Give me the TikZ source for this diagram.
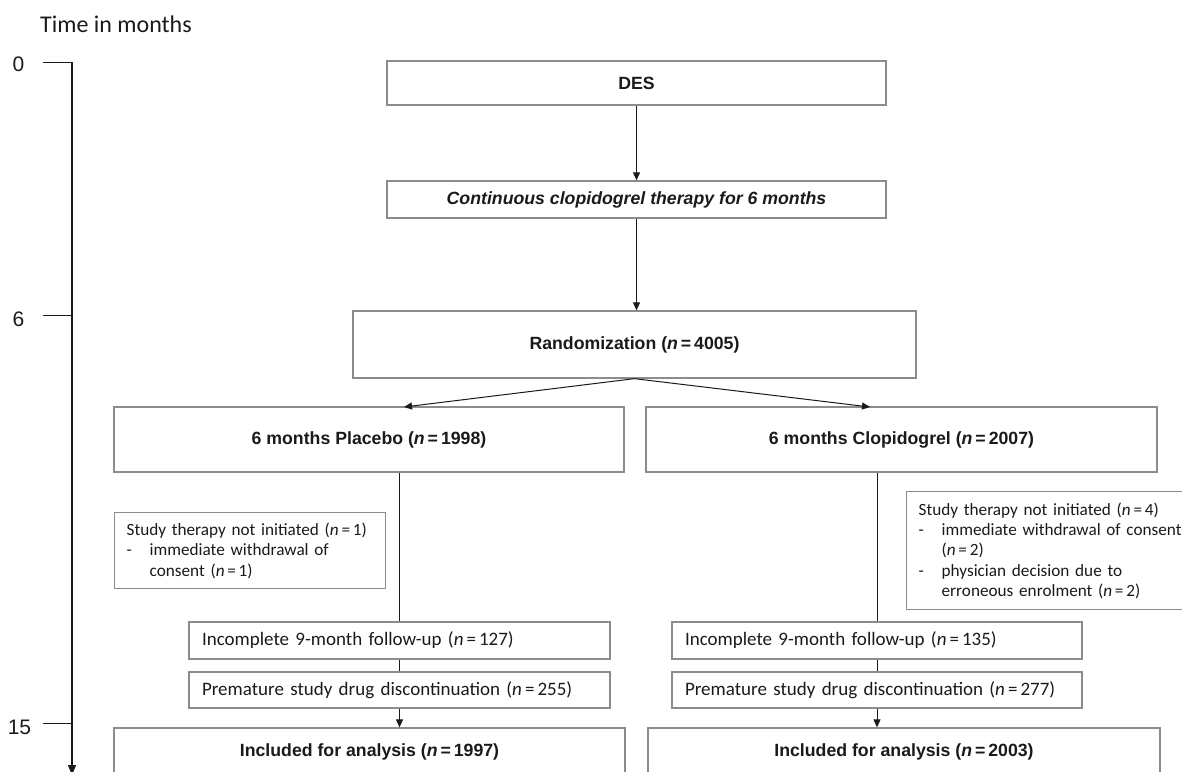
\documentclass[tikz,border=0pt]{standalone}
\usepackage{fontspec}
\setmainfont{Liberation Sans}
\newfontfamily\calib{Carlito}
\usetikzlibrary{arrows.meta,calc}
\definecolor{boxgray}{HTML}{8C8C8C}
\definecolor{ink}{HTML}{1A1A1A}
\newcommand{\eqn}[1]{\textit{n}\hspace{0.16em}=\hspace{0.16em}#1}
\begin{document}
\begin{tikzpicture}[x=1pt,y=-1pt,
  every node/.style={text=ink},
  boldbox/.style={draw=boxgray, line width=1.3pt, inner sep=0pt, align=center,
     font=\fontsize{17.7}{21}\selectfont\bfseries},
  leftbox/.style={draw=boxgray, line width=1.3pt, inner xsep=13pt, inner ysep=0pt, align=left,
     font=\calib\fontsize{19}{21}\selectfont},
  sidebox/.style={draw=boxgray, line width=1.3pt, inner xsep=12pt, inner ysep=0pt, align=left,
     anchor=north west, font=\calib\fontsize{17.2}{20.3}\selectfont},
  conn/.style={draw=ink, line width=1pt},
  arr/.style={conn, -{Triangle[length=8pt,width=7pt]}},
  tick/.style={draw=ink, line width=1pt},
  axislbl/.style={font=\fontsize{21}{24}\selectfont, inner sep=0pt}
]
\useasboundingbox (0,0) rectangle (1182,771);
\clip (0,0) rectangle (1182,771);

% time axis
\node[anchor=base west, inner sep=0pt, font=\calib\fontsize{24}{26}\selectfont] (title) at (40,32) {Time in months};
\coordinate (ax0) at (72,62);
\coordinate (axend) at (72,775);
\draw[conn, line width=1.5pt, -{Triangle[length=10pt,width=8pt]}] (ax0) -- (axend);
\coordinate (k0) at (43,62);
\coordinate (k6) at (43,315);
\coordinate (k15) at (43,723);
\draw[tick] (k0) -- (k0 -| ax0);
\draw[tick] (k6) -- (k6 -| ax0);
\draw[tick] (k15) -- (k15 -| ax0);
\node[axislbl] (l0) at (18.5,64) {0};
\node[axislbl] (l6) at (18.5,319) {6};
\node[axislbl] (l15) at (19.5,727) {15};

% main flow
\node[boldbox, minimum width=499pt, minimum height=44pt] (DES) at (636.5,83) {DES};
\node[boldbox, minimum width=499pt, minimum height=37pt] (Cont) at (636.5,199.5) {\itshape Continuous clopidogrel therapy for 6 months};
\node[boldbox, minimum width=563pt, minimum height=67pt] (Rand) at (634.5,344.5) {Randomization (\textit{n}\,=\,4005)};
\node[boldbox, minimum width=510pt, minimum height=65pt] (Plac) at (369,439.5) {6 months Placebo (\textit{n}\,=\,1998)};
\node[boldbox, minimum width=511pt, minimum height=65pt] (Clop) at (901.5,439.5) {6 months Clopidogrel (\textit{n}\,=\,2007)};

% side boxes
\node[sidebox, text width=247pt, minimum height=76pt] (Side1) at (114,512)
  {\mbox{Study therapy not initiated (\eqn{1})}\\
   \mbox{\makebox[23pt][l]{-}immediate withdrawal of}\\
   \mbox{\hspace*{23pt}consent (\eqn{1})}};
\node[sidebox, text width=260pt, minimum height=118pt] (Side2) at (906,491)
  {\mbox{Study therapy not initiated (\eqn{4})}\\
   \mbox{\makebox[23pt][l]{-}immediate withdrawal of consent}\\
   \mbox{\hspace*{23pt}(\eqn{2})}\\
   \mbox{\makebox[23pt][l]{-}physician decision due to}\\
   \mbox{\hspace*{23pt}erroneous enrolment (\eqn{2})}};

% follow-up boxes
\node[leftbox, text width=395pt, minimum height=37pt] (Inc1) at (399.5,640.5) {Incomplete 9-month follow-up (\eqn{127})};
\node[leftbox, text width=395pt, minimum height=36pt] (Prem1) at (399.5,690) {Premature study drug discontinuation (\eqn{255})};
\node[leftbox, text width=384pt, minimum height=37pt] (Inc2) at (877,640.5) {Incomplete 9-month follow-up (\eqn{135})};
\node[leftbox, text width=384pt, minimum height=36pt] (Prem2) at (877,690) {Premature study drug discontinuation (\eqn{277})};

\node[boldbox, minimum width=511pt, minimum height=47pt] (Incl1) at (369.5,751.5) {Included for analysis (\textit{n}\,=\,1997)};
\node[boldbox, minimum width=512pt, minimum height=47pt] (Incl2) at (904,751.5) {Included for analysis (\textit{n}\,=\,2003)};

% connectors
\draw[arr] (DES.south) -- (Cont.north);
\draw[arr] (Cont.south) -- (Cont.south |- Rand.north);
\coordinate (pl) at (404,407);
\coordinate (cl) at (870,407);
\draw[arr] (Rand.south) -- (pl);
\draw[arr] (Rand.south) -- (cl);
\draw[conn] (Inc1.north |- Plac.south) -- (Inc1.north);
\draw[conn] (Inc1.south) -- (Prem1.north);
\draw[arr] (Prem1.south) -- (Prem1.south |- Incl1.north);
\draw[conn] (Inc2.north |- Clop.south) -- (Inc2.north);
\draw[conn] (Inc2.south) -- (Prem2.north);
\draw[arr] (Prem2.south) -- (Prem2.south |- Incl2.north);
\end{tikzpicture}
\end{document}
